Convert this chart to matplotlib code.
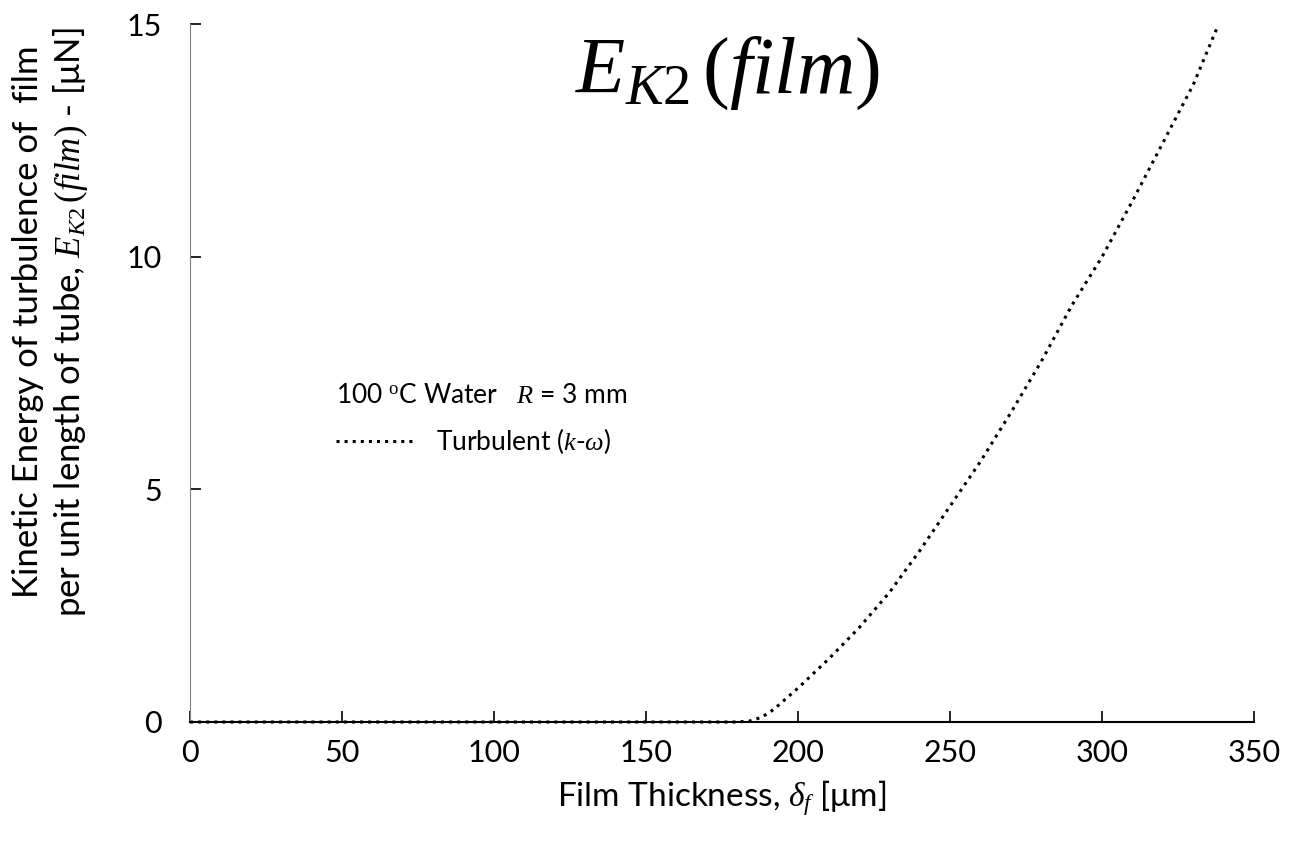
import matplotlib
matplotlib.use('Agg')
import matplotlib.pyplot as plt
import numpy as np

plt.rcParams['font.family'] = ['Lato', 'DejaVu Sans']
plt.rcParams['mathtext.fontset'] = 'custom'
plt.rcParams['mathtext.rm'] = 'Liberation Serif'
plt.rcParams['mathtext.it'] = 'Liberation Serif:italic'
plt.rcParams['mathtext.bf'] = 'Liberation Serif:bold'

# film thickness [um] and kinetic energy [uN]
thickness = [0, 50, 100, 150, 180, 184, 188, 192, 196, 200, 210, 220, 230,
             240, 250, 260, 270, 280, 290, 300, 310, 320, 330, 338]
energy = [0, 0, 0, 0, 0, 0.02, 0.1, 0.27, 0.5, 0.73, 1.35, 2.02, 2.78,
          3.68, 4.64, 5.6, 6.65, 7.75, 8.95, 10.0, 11.2, 12.45, 13.7, 14.95]

xticks = [0, 50, 100, 150, 200, 250, 300, 350]
yticks = [0, 5, 10, 15]

fig = plt.figure(figsize=(13.01, 8.52), dpi=100)
ax = fig.add_axes([0.146, 0.1526, 0.818, 0.8192])

ax.plot(thickness, energy, color='black', linestyle=':', linewidth=2.2,
        clip_on=False, label=r'Turbulent ($k$-$\omega$)')

ax.set_xlim(0, 350)
ax.set_ylim(0, 15)
ax.set_xticks(xticks)
ax.set_yticks(yticks)
ax.tick_params(axis='both', direction='in', labelsize=22, length=8, width=1.2)
ax.tick_params(axis='x', pad=12)
ax.tick_params(axis='y', pad=20)

for s in ['top', 'right']:
    ax.spines[s].set_visible(False)
ax.spines['left'].set_color('#808080')
ax.spines['bottom'].set_linewidth(1.5)

ax.set_xlabel(r'Film Thickness, $\delta_f$ [μm]', fontsize=24, labelpad=8)
ax.set_ylabel('Kinetic Energy of turbulence of  film\n'
              r'per unit length of tube, $E_{K2}\,(film)$ - [μN]',
              fontsize=25, linespacing=1.25)
ax.yaxis.set_label_coords(-0.094, 0.573)

ax.text(0.505, 0.93, r'$E_{K2}\,(film)$', transform=ax.transAxes,
        fontsize=58, ha='center', va='center')

leg = ax.legend(loc='upper left', bbox_to_anchor=(0.125, 0.505), frameon=False,
                fontsize=19, title=r'100 $^{\mathrm{o}}$C Water   $R$ = 3 mm',
                title_fontsize=19, handlelength=3.0, alignment='left',
                borderpad=0, labelspacing=0.7)

fig.savefig('out.png', dpi=100)
